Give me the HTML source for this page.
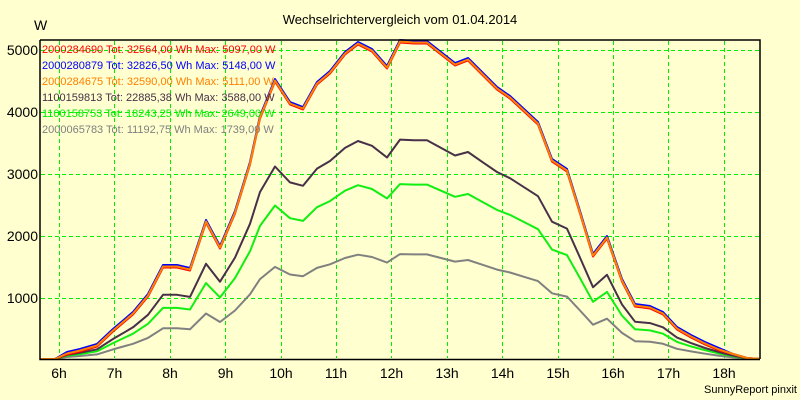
<!DOCTYPE html>
<html><head><meta charset="utf-8"><style>
body{margin:0;background:#FFFFCC;}
svg{display:block;font-family:"Liberation Sans",sans-serif;}
</style></head><body>
<svg id="s" width="800" height="400" xmlns="http://www.w3.org/2000/svg">
<rect width="800" height="400" fill="#FFFFD0"/>
<text x="400" y="24" font-size="13" text-anchor="middle">Wechselrichtervergleich vom 01.04.2014</text>
<text x="34" y="30" font-size="14">W</text>
<g font-size="14" text-anchor="end">
<text x="38" y="55">5000</text><text x="38" y="117">4000</text><text x="38" y="179">3000</text><text x="38" y="241">2000</text><text x="38" y="303">1000</text>
</g>
<g font-size="14" text-anchor="middle">
<text x="59" y="378">6h</text><text x="114.5" y="378">7h</text><text x="170" y="378">8h</text><text x="225.5" y="378">9h</text><text x="281" y="378">10h</text><text x="336" y="378">11h</text><text x="391.5" y="378">12h</text><text x="447" y="378">13h</text><text x="502.5" y="378">14h</text><text x="558" y="378">15h</text><text x="613" y="378">16h</text><text x="668.5" y="378">17h</text><text x="724" y="378">18h</text>
</g>
<text x="797" y="393" font-size="11" text-anchor="end">SunnyReport pinxit</text>
<g id="grid" stroke="#00EE00" stroke-width="1" stroke-dasharray="4,3" shape-rendering="crispEdges"></g>
<g id="lines" fill="none" stroke-width="2" stroke-linejoin="round"></g>
<g font-size="11">
<text x="42" y="53" fill="#FF0000">2000284690 Tot: 32564,00 Wh Max: 5097,00 W</text>
<text x="42" y="69" fill="#0000FF">2000280879 Tot: 32826,50 Wh Max: 5148,00 W</text>
<text x="42" y="85" fill="#FF8000">2000284675 Tot: 32590,00 Wh Max: 5111,00 W</text>
<text x="42" y="101" fill="#483048">1100159813 Tot: 22885,38 Wh Max: 3588,00 W</text>
<text x="42" y="117" fill="#00EE00">1100158753 Tot: 18243,25 Wh Max: 2649,00 W</text>
<text x="42" y="133" fill="#808080">2000065783 Tot: 11192,75 Wh Max: 1739,00 W</text>
</g>
<polyline points="40,40 760,40 760,359" fill="none" stroke="#000" stroke-width="1.5"/>
<polyline points="40,40 40,359.5 760,359.5" fill="none" stroke="#000" stroke-width="1.5"/>
</svg>
<script>
var NS="http://www.w3.org/2000/svg";
var g=document.getElementById("grid"),L=document.getElementById("lines");
function ln(p,a){var e=document.createElementNS(NS,"line");for(var k in a)e.setAttribute(k,a[k]);p.appendChild(e);}
[59,114,170,225,281,336,391,447,502,558,613,668,724].forEach(function(x){ln(g,{x1:x+0.5,y1:41,x2:x+0.5,y2:358});});
[50,112,174,236,298].forEach(function(y){ln(g,{x1:41,y1:y+0.5,x2:759,y2:y+0.5});});
var P=[[40,359],[55,359],[67,353],[80,350],[97,345],[113,330],[133,313],[148,295],[163,266],[177,266],[190,269],[206,221],[220,247],[235,212],[250,163],[260,117],[275,80],[290,103],[303,108],[317,83],[330,72],[345,53],[358,43],[372,50],[387,67],[400,41],[414,42],[427,42],[441,53],[455,64],[468,59],[483,74],[497,88],[510,97],[524,110],[538,123],[552,160],[567,170],[580,212],[593,255],[607,237],[622,280],[635,305],[650,307],[663,313],[677,328],[691,336],[705,343],[719,349],[733,354],[747,358],[760,359]];
function poly(k,dy,col){var s=P.map(function(p){var v=359-p[1];return p[0]+","+(359-v*k+(v>5?dy:0)).toFixed(1);}).join(" ");
var e=document.createElementNS(NS,"polyline");e.setAttribute("points",s);e.setAttribute("stroke",col);L.appendChild(e);}
poly(0.33,0,"#808080");poly(0.55,0,"#11EE11");poly(0.69,0,"#483048");
poly(1,-1,"#0000FF");poly(1,1.5,"#FF0000");poly(1,0.5,"#FF8000");
</script>
</body></html>
